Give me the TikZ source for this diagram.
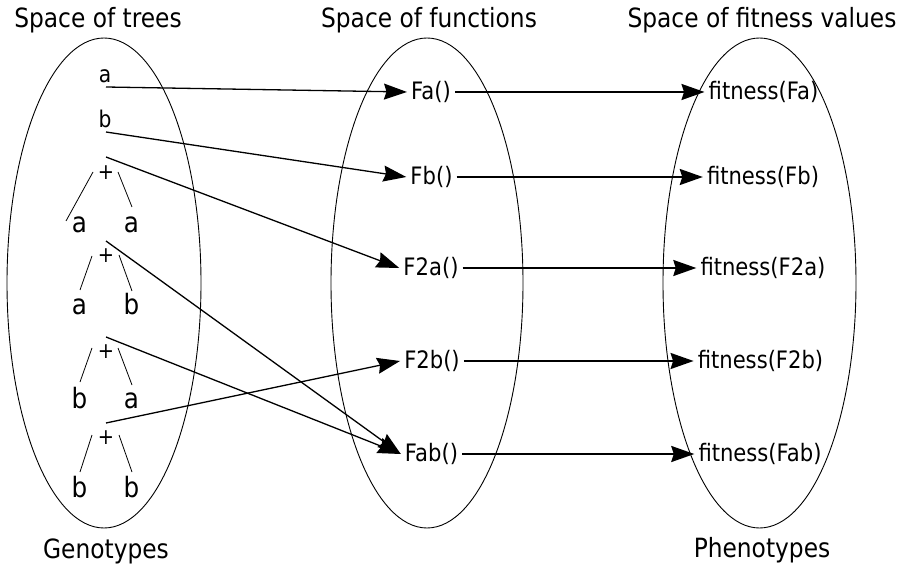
\documentclass[tikz,border=0pt]{standalone}
\usepackage{fontspec}
\setmainfont{DejaVu Sans}[FakeStretch=0.88]
\usetikzlibrary{arrows.meta,shapes.geometric}
\begin{document}
\begin{tikzpicture}[x=1pt,y=-1pt,
  space/.style={draw,ellipse,line width=0.9pt,inner sep=0pt},
  title/.style={anchor=base,inner sep=0pt,font=\fontsize{26.5}{30}\selectfont},
  lbl/.style={inner sep=4pt,font=\fontsize{24}{28}\selectfont},
  leaf/.style={anchor=base,inner sep=0pt,font=\fontsize{28}{32}\selectfont},
  op/.style={inner sep=0pt,font=\fontsize{22}{26}\selectfont},
  small/.style={anchor=base,inner sep=0pt,font=\fontsize{23}{27}\selectfont},
  branch/.style={line width=0.8pt},
  map/.style={line width=1.3pt,-{Stealth[length=23pt,width=16pt,inset=2.5pt]}},
  eval/.style={line width=2pt,-{Stealth[length=23pt,width=16pt,inset=2.5pt]}}]
\useasboundingbox (0,0) rectangle (903,564);

% spaces
\node[space,minimum width=194pt,minimum height=490pt] (E1) at (104,283) {};
\node[space,minimum width=192pt,minimum height=490pt] (E2) at (427,283) {};
\node[space,minimum width=193pt,minimum height=490pt] (E3) at (759.5,283) {};

% titles
\node[title] (T1) at (98,28) {Space of trees};
\node[title] (T2) at (429,28) {Space of functions};
\node[title] (T3) at (762,28) {Space of fitness values};
\node[title] (G) at (106,558) {Genotypes};
\node[title] (P) at (762,557) {Phenotypes};

% genotypes
\node[small] (ga) at (105,83) {a};
\node[small] (gb) at (105,128) {b};
\coordinate (sa) at (106,87);
\coordinate (sb) at (106,132);

% tree 1: + a a
\coordinate (s1) at (106,157);
\node[op] (p1) at (106,173) {+};
\node[leaf] (l1) at (79.5,233) {a};
\node[leaf] (r1) at (131.5,233) {a};
\coordinate (p1l) at (93,172); \coordinate (l1t) at (66,221);
\coordinate (p1r) at (118,172); \coordinate (r1t) at (132,207);
\draw[branch] (p1l) -- (l1t);
\draw[branch] (p1r) -- (r1t);

% tree 2: + a b
\coordinate (s2) at (106,241);
\node[op] (p2) at (106,256) {+};
\node[leaf] (l2) at (79.5,315) {a};
\node[leaf] (r2) at (131.5,315) {b};
\coordinate (p2l) at (92,256); \coordinate (l2t) at (80,290);
\coordinate (p2r) at (119,255); \coordinate (r2t) at (132,291);
\draw[branch] (p2l) -- (l2t);
\draw[branch] (p2r) -- (r2t);

% tree 3: + b a
\coordinate (s3) at (106,337);
\node[op] (p3) at (106,352) {+};
\node[leaf] (l3) at (79.5,408) {b};
\node[leaf] (r3) at (131.5,408) {a};
\coordinate (p3l) at (92,348); \coordinate (l3t) at (80,382);
\coordinate (p3r) at (118,348); \coordinate (r3t) at (132,385);
\draw[branch] (p3l) -- (l3t);
\draw[branch] (p3r) -- (r3t);

% tree 4: + b b
\coordinate (s4) at (106,423);
\node[op] (p4) at (106,438) {+};
\node[leaf] (l4) at (79.5,497) {b};
\node[leaf] (r4) at (131.5,497) {b};
\coordinate (p4l) at (92,435); \coordinate (l4t) at (80,472);
\coordinate (p4r) at (119,435); \coordinate (r4t) at (132,472);
\draw[branch] (p4l) -- (l4t);
\draw[branch] (p4r) -- (r4t);

% functions
\node[lbl] (Fa) at (431,92) {Fa()};
\node[lbl] (Fb) at (431.5,177) {Fb()};
\node[lbl] (F2a) at (431,268) {F2a()};
\node[lbl] (F2b) at (432,361) {F2b()};
\node[lbl] (Fab) at (431.5,454) {Fab()};

% fitness values
\node[lbl] (fa) at (763.5,92) {fitness(Fa)};
\node[lbl] (fb) at (763,177) {fitness(Fb)};
\node[lbl] (f2a) at (763,268) {fitness(F2a)};
\node[lbl] (f2b) at (760.5,361) {fitness(F2b)};
\node[lbl] (fab) at (760,454) {fitness(Fab)};

% genotype -> function
\draw[map] (sa) -- (Fa.west);
\draw[map] (sb) -- (Fb.west);
\draw[map] (s1) -- (F2a.west);
\draw[map] (s2) -- (Fab.west);
\draw[map] (s3) -- (Fab.west);
\draw[map] (s4) -- (F2b.west);

% function -> fitness
\draw[eval] (Fa.east) -- (fa.west);
\draw[eval] (Fb.east) -- (fb.west);
\draw[eval] (F2a.east) -- (f2a.west);
\draw[eval] (F2b.east) -- (f2b.west);
\draw[eval] (Fab.east) -- (fab.west);
\end{tikzpicture}
\end{document}
